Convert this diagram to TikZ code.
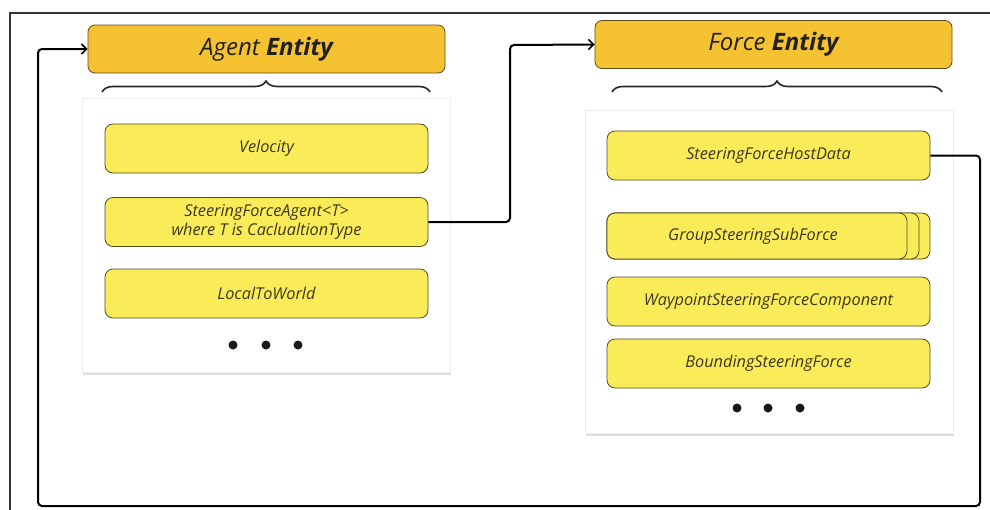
\documentclass[tikz,border=0pt]{standalone}
\usepackage{fontspec}
\setmainfont{Open Sans}
\usetikzlibrary{shadows,decorations.pathreplacing,arrows.meta}

\definecolor{hdrfill}{RGB}{245,194,50}
\definecolor{hdrline}{RGB}{95,75,25}
\definecolor{boxfill}{RGB}{250,235,88}
\definecolor{boxline}{RGB}{85,75,30}
\definecolor{txtdark}{RGB}{35,32,25}
\definecolor{txtbox}{RGB}{60,55,30}
\definecolor{frameline}{RGB}{55,55,55}

\begin{document}
\begin{tikzpicture}[x=1pt,y=-1pt,
  header/.style={draw=hdrline, fill=hdrfill, rounded corners=7pt, line width=0.8pt,
    minimum width=357pt, minimum height=48pt, inner sep=0pt,
    font=\fontsize{24}{28}\selectfont\itshape, text=txtdark},
  comp/.style={draw=boxline, fill=boxfill, rounded corners=8pt, line width=0.8pt,
    minimum width=323pt, minimum height=49pt, inner sep=0pt, align=center,
    font=\fontsize{16.3}{20}\selectfont\itshape, text=txtbox},
  panel/.style={fill=white, draw=black!7, line width=0.6pt,
    drop shadow={shadow xshift=1pt, shadow yshift=-2.5pt, fill=black, opacity=0.13}},
  bracket/.style={decorate, decoration={brace, amplitude=11pt}, line width=1.6pt, black!85},
  link/.style={line width=2pt, rounded corners=4pt},
  tip/.style={-{Straight Barb[length=5pt,width=10pt,line width=1.6pt]}},
  dot/.style={circle, fill=black!90, inner sep=0pt, minimum size=9pt},
  frame/.style={draw=frameline, line width=1.3pt}
]
\useasboundingbox (0,0) rectangle (990,509);

% outer frame
\draw[frame] (10,510) -- (10,13) -- (991,13);

% ---------- Agent entity ----------
\node[header] (ae) at (266.5,49) {Agent \textbf{Entity}};
\draw[bracket] (102,92) -- (430,92);
\node[panel, minimum width=368pt, minimum height=274pt] (ap) at (266,235) {};
\node[comp] (vel) at (266.5,148.5) {Velocity};
\node[comp] (sfa) at (266.5,222) {SteeringForceAgent<T>\\[-1pt]where T is CaclualtionType};
\node[comp] (ltw) at (266.5,293.5) {LocalToWorld};
\node[dot] (ad1) at (233,345) {};
\node[dot] (ad2) at (266,345) {};
\node[dot] (ad3) at (298,345) {};

% ---------- Force entity ----------
\node[header] (fe) at (773.5,44.5) {Force \textbf{Entity}};
\draw[bracket] (612,92) -- (942,92);
\node[panel, minimum width=368pt, minimum height=323pt] (fp) at (769,271.5) {};
\node[comp] (hd) at (768.5,155.5) {SteeringForceHostData};
% stacked buffer
\node[comp, minimum width=323pt, minimum height=46pt] (gs3) at (768.5,236) {};
\node[comp, minimum width=312pt, minimum height=46pt] (gs2) at (763,236) {};
\node[comp, minimum width=300pt, minimum height=46pt] (gs) at (757,236) {};
\node[font=\fontsize{16.3}{20}\selectfont\itshape, text=txtbox] (gst) at (753,236) {GroupSteeringSubForce};
\node[comp] (wp) at (768.5,301.5) {WaypointSteeringForceComponent};
\node[comp] (bs) at (768.5,363.5) {BoundingSteeringForce};
\node[dot] (fd1) at (737,408) {};
\node[dot] (fd2) at (768,408) {};
\node[dot] (fd3) at (800,408) {};

% ---------- connectors ----------
\coordinate (up) at (510,45);
\draw[link,tip] (sfa.east) -| (up) -- (fe.west);

\coordinate (c1) at (980,506);
\coordinate (c2) at (38,506);
\draw[link,tip] (hd.east) -| (c1) -- (c2) |- (ae.west);
\end{tikzpicture}
\end{document}
